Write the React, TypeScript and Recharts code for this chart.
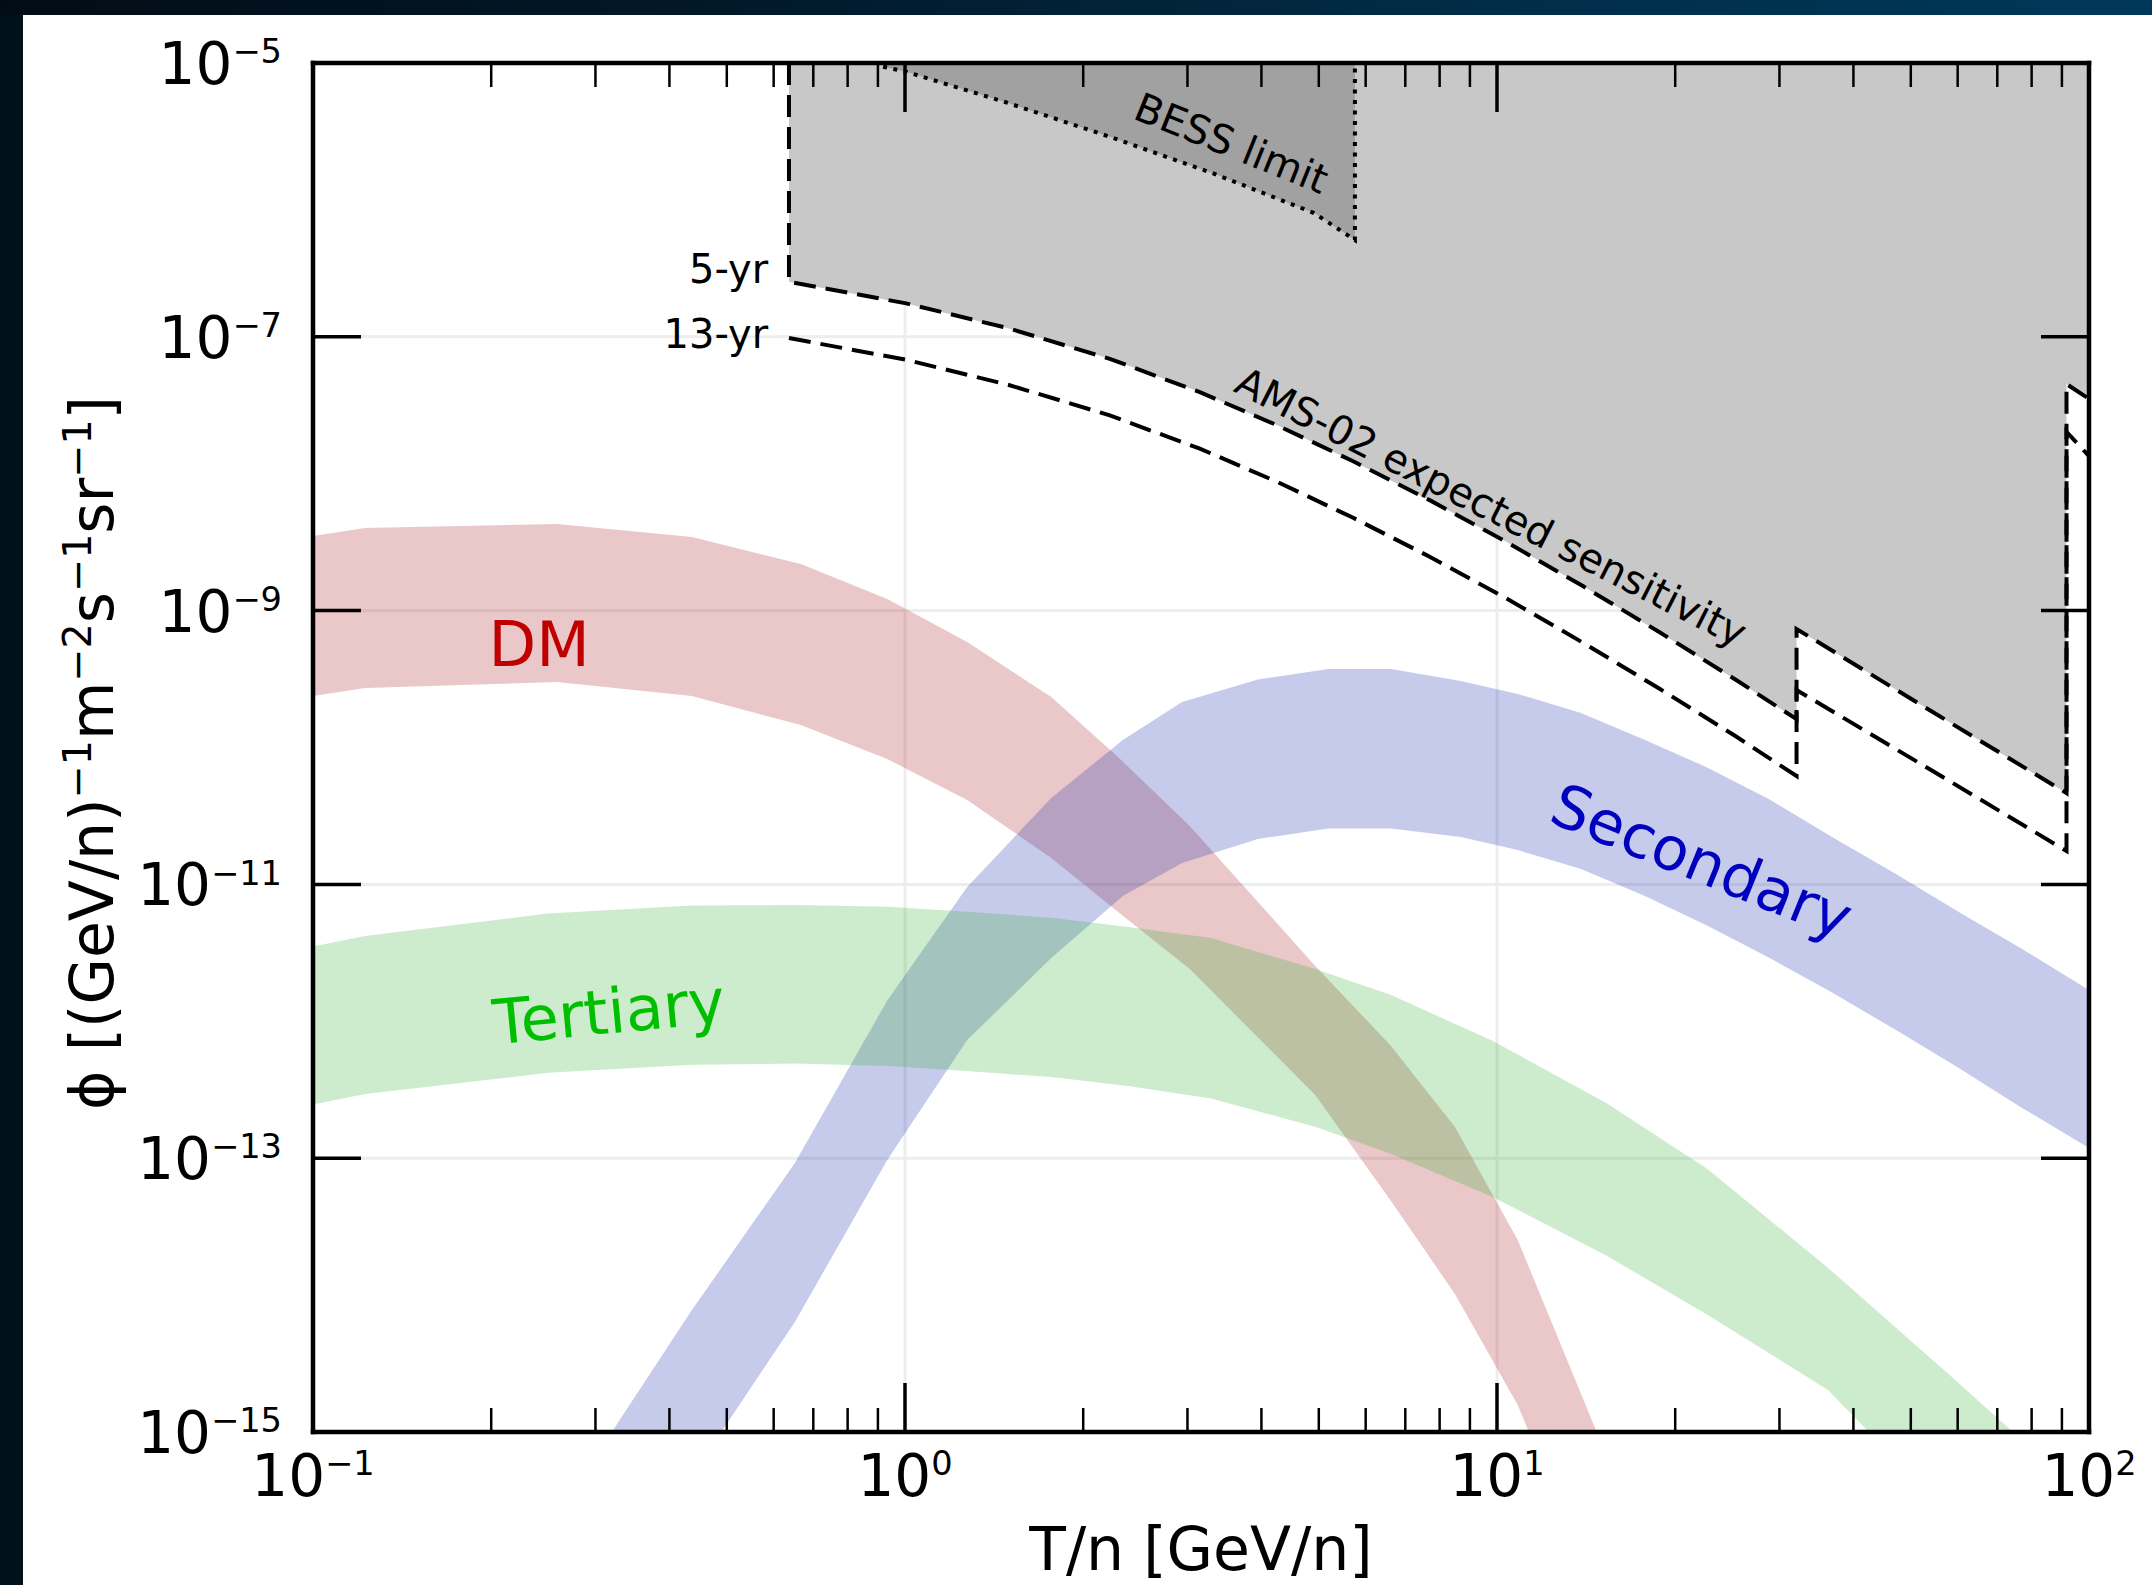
import React from 'react';
import { ComposedChart, Area, Line, XAxis, YAxis, CartesianGrid, ReferenceDot } from 'recharts';

const W = 2152;
const H = 1585;
const FONT = '"DejaVu Sans", sans-serif';

// all values are log10: x = log10(T/n in GeV/n), y = log10(flux)
const Y_MIN = -15;
const Y_MAX = -5;

const DM_X = [-1.0, -0.912, -0.588, -0.36, -0.176, -0.03, 0.105, 0.247, 0.358, 0.481, 0.693, 0.821, 0.929, 1.035, 1.169];
const DM_HI = [-8.455, -8.397, -8.367, -8.462, -8.66, -8.915, -9.229, -9.631, -10.062, -10.573, -11.596, -12.18, -12.772, -13.597, -15.007];
const DM_LO = [-9.624, -9.565, -9.522, -9.624, -9.836, -10.084, -10.383, -10.807, -11.194, -11.618, -12.538, -13.313, -13.992, -14.803, -16.2];

const TER_X = [-1.0, -0.912, -0.603, -0.36, -0.186, -0.03, 0.105, 0.247, 0.377, 0.517, 0.693, 0.821, 0.993, 1.186, 1.356, 1.559, 1.774, 2.0];
const TER_HI = [-11.454, -11.377, -11.213, -11.155, -11.15, -11.164, -11.199, -11.244, -11.311, -11.392, -11.618, -11.808, -12.144, -12.6, -13.08, -13.8, -14.62, -15.5];
const TER_LO = [-12.608, -12.531, -12.376, -12.318, -12.309, -12.326, -12.363, -12.407, -12.473, -12.564, -12.771, -12.969, -13.283, -13.714, -14.145, -14.693, -15.643, -16.81];

const SEC_X = [-0.603, -0.492, -0.36, -0.186, -0.03, 0.105, 0.247, 0.368, 0.468, 0.596, 0.715, 0.821, 0.939, 1.035, 1.142, 1.25, 1.353, 1.459, 1.566, 1.674, 1.78, 1.887, 2.0];
const SEC_HI = [-15.716, -14.978, -14.109, -13.035, -11.848, -11.019, -10.369, -9.945, -9.668, -9.503, -9.427, -9.427, -9.514, -9.609, -9.748, -9.945, -10.142, -10.376, -10.653, -10.924, -11.201, -11.472, -11.771];
const SEC_LO = [-16.899, -16.176, -15.321, -14.196, -13.013, -12.137, -11.538, -11.085, -10.844, -10.668, -10.592, -10.592, -10.654, -10.749, -10.888, -11.085, -11.297, -11.534, -11.79, -12.064, -12.341, -12.633, -12.925];

// AMS-02 expected sensitivity (x repeats where the curves jump)
const AMS_X = [-0.196, 0.002, 0.174, 0.346, 0.498, 0.628, 0.757, 0.887, 1.015, 1.145, 1.274, 1.404, 1.506, 1.506, 1.736, 1.962, 1.962, 2.0];
const AMS_5YR = [-6.598, -6.756, -6.937, -7.161, -7.404, -7.645, -7.909, -8.195, -8.496, -8.821, -9.156, -9.507, -9.793, -9.134, -9.741, -10.333, -7.345, -7.454];
const AMS_13YR = [-7.009, -7.168, -7.35, -7.574, -7.817, -8.058, -8.322, -8.608, -8.909, -9.234, -9.569, -9.92, -10.208, -9.58, -10.172, -10.756, -7.695, -7.871];

const BESS_X = [-0.037, 0.002, 0.174, 0.346, 0.519, 0.691, 0.76];
const BESS_Y = [-5.027, -5.064, -5.292, -5.539, -5.804, -6.096, -6.293];

const X_MAJOR = [-1, 0, 1, 2];
const X_TICKS = [
  ...X_MAJOR,
  ...[-1, 0, 1].flatMap((n) => [2, 3, 4, 5, 6, 7, 8, 9].map((k) => n + Math.log10(k))),
];
const Y_TICKS = [-15, -13, -11, -9, -7, -5];
const X_GRID = [0, 1];
const Y_GRID = [-13, -11, -9, -7];

const band = (xs: number[], lo: number[], hi: number[]) => xs.map((x, i) => ({ x, band: [lo[i], hi[i]] }));
const curve = (xs: number[], ys: number[]) => xs.map((x, i) => ({ x, y: ys[i] }));

const dmData = band(DM_X, DM_LO, DM_HI);
const terData = band(TER_X, TER_LO, TER_HI);
const secData = band(SEC_X, SEC_LO, SEC_HI);
const amsFill = band(AMS_X, AMS_5YR, AMS_X.map(() => Y_MAX));
const fiveYr = [{ x: AMS_X[0], y: Y_MAX }, ...curve(AMS_X, AMS_5YR)];
const thirteenYr = curve(AMS_X, AMS_13YR);
const bessFill = band(BESS_X, BESS_Y, BESS_X.map(() => Y_MAX));
const bessLine = [...curve(BESS_X, BESS_Y), { x: BESS_X[BESS_X.length - 1], y: Y_MAX }];

const NOTES = [
  { x: -0.618, y: -9.244, text: 'DM', color: '#c00000', size: 62, angle: 0 },
  { x: -0.5, y: -11.93, text: 'Tertiary', color: '#00bf00', size: 62, angle: -5.5 },
  { x: 1.346, y: -10.83, text: 'Secondary', color: '#0000bf', size: 60, angle: 22 },
  { x: 0.5515, y: -5.586, text: 'BESS limit', color: '#000', size: 40, angle: 22 },
  { x: 0.99, y: -8.243, text: 'AMS-02 expected sensitivity', color: '#000', size: 40, angle: 27 },
];
const YR_LABELS = [
  { x: -0.231, y: -6.607, text: '5-yr' },
  { x: -0.231, y: -7.082, text: '13-yr' },
];

const TICK_SIZE = 58;
const SUP = 0.58;
const isMajor = (v: number) => Math.abs(v - Math.round(v)) < 1e-9;
const expText = (v: number) => (v < 0 ? '\u2212' + Math.abs(v) : String(v));

function Pow({ x, y, exp, anchor }: { x: number; y: number; exp: number; anchor: string }) {
  return (
    <text x={x} y={y} textAnchor={anchor} fontFamily={FONT} fontSize={TICK_SIZE} fill="#000">
      10
      <tspan dy={-0.36 * TICK_SIZE} fontSize={TICK_SIZE * SUP}>
        {expText(exp)}
      </tspan>
    </text>
  );
}

function BottomTick(p: any) {
  const v = p.payload.value;
  const major = isMajor(v);
  return (
    <g>
      <line x1={p.x} y1={p.y} x2={p.x} y2={p.y - (major ? 49 : 24)} stroke="#000" strokeWidth={major ? 3.5 : 2.5} />
      {major && <Pow x={p.x} y={p.y + 64} exp={Math.round(v)} anchor="middle" />}
    </g>
  );
}

function TopTick(p: any) {
  const major = isMajor(p.payload.value);
  return <line x1={p.x} y1={p.y} x2={p.x} y2={p.y + (major ? 49 : 24)} stroke="#000" strokeWidth={major ? 3.5 : 2.5} />;
}

function LeftTick(p: any) {
  const v = p.payload.value;
  return (
    <g>
      <line x1={p.x} y1={p.y} x2={p.x + 48} y2={p.y} stroke="#000" strokeWidth={3.5} />
      <Pow x={p.x - 31} y={p.y + 21} exp={v} anchor="end" />
    </g>
  );
}

function RightTick(p: any) {
  return <line x1={p.x} y1={p.y} x2={p.x - 48} y2={p.y} stroke="#000" strokeWidth={3.5} />;
}

const axisLine = { stroke: '#000', strokeWidth: 4.5, strokeLinecap: 'square' };

const Y_LABEL_PARTS = [
  ['\u03d5 [(GeV/n)', '\u22121'],
  ['m', '\u22122'],
  ['s', '\u22121'],
  ['sr', '\u22121'],
  [']', ''],
];

function YLabel() {
  const size = 60;
  const raise = 0.36 * size;
  return (
    <text transform="translate(113,753) rotate(-90)" textAnchor="middle" fontFamily={FONT} fontSize={size} fill="#000">
      {Y_LABEL_PARTS.map(([base, sup], i) => (
        <React.Fragment key={i}>
          <tspan dy={i === 0 ? 0 : raise}>{base}</tspan>
          {sup && (
            <tspan dy={-raise} fontSize={size * 0.66}>
              {sup}
            </tspan>
          )}
        </React.Fragment>
      ))}
    </text>
  );
}

export default function App() {
  return (
    <div style={{ position: 'absolute', left: 0, top: 0, width: W, height: H, background: '#fff', overflow: 'hidden' }}>
      <div style={{ position: 'absolute', left: 0, top: 0, width: 23, height: H, background: '#01111c' }} />
      <div
        style={{
          position: 'absolute',
          left: 0,
          top: 0,
          width: W,
          height: 15,
          background: 'linear-gradient(to right, #020c15 0%, #01192a 35%, #012d48 70%, #00385a 100%)',
        }}
      />
      <div style={{ position: 'absolute', left: 0, top: 0 }}>
        <ComposedChart width={W} height={H} margin={{ top: 62, right: 62, bottom: 152, left: 312 }}>
          <CartesianGrid stroke="#ededed" strokeWidth={3} horizontalValues={Y_GRID} verticalValues={X_GRID} />
          <Area data={amsFill} dataKey="band" type="linear" stroke="none" fill="#c8c8c8" fillOpacity={1} isAnimationActive={false} />
          <Area data={bessFill} dataKey="band" type="linear" stroke="none" fill="#a1a1a1" fillOpacity={1} isAnimationActive={false} />
          <Area data={dmData} dataKey="band" type="linear" stroke="none" fill="rgb(171,31,35)" fillOpacity={0.25} isAnimationActive={false} />
          <Area data={secData} dataKey="band" type="linear" stroke="none" fill="rgb(31,47,175)" fillOpacity={0.25} isAnimationActive={false} />
          <Area data={terData} dataKey="band" type="linear" stroke="none" fill="rgb(55,175,55)" fillOpacity={0.25} isAnimationActive={false} />
          <Line data={thirteenYr} dataKey="y" type="linear" stroke="#000" strokeWidth={4} strokeDasharray="22 10" dot={false} activeDot={false} isAnimationActive={false} />
          <Line data={fiveYr} dataKey="y" type="linear" stroke="#000" strokeWidth={4} strokeDasharray="22 10" dot={false} activeDot={false} isAnimationActive={false} />
          <Line data={bessLine} dataKey="y" type="linear" stroke="#000" strokeWidth={4} strokeDasharray="4 6.5" dot={false} activeDot={false} isAnimationActive={false} />
          {NOTES.map((n) => (
            <ReferenceDot
              key={n.text}
              x={n.x}
              y={n.y}
              r={0}
              shape={(p: any) => (
                <text
                  x={p.cx}
                  y={p.cy}
                  transform={`rotate(${n.angle}, ${p.cx}, ${p.cy})`}
                  textAnchor="middle"
                  dominantBaseline="central"
                  fontFamily={FONT}
                  fontSize={n.size}
                  fill={n.color}
                >
                  {n.text}
                </text>
              )}
            />
          ))}
          {YR_LABELS.map((n) => (
            <ReferenceDot
              key={n.text}
              x={n.x}
              y={n.y}
              r={0}
              shape={(p: any) => (
                <text x={p.cx} y={p.cy} textAnchor="end" fontFamily={FONT} fontSize={40} fill="#000">
                  {n.text}
                </text>
              )}
            />
          ))}
          <XAxis
            dataKey="x"
            type="number"
            domain={[-1, 2]}
            allowDataOverflow
            ticks={X_TICKS}
            interval={0}
            height={1}
            tickSize={0}
            tickMargin={0}
            tickLine={false}
            axisLine={axisLine}
            tick={(p: any) => <BottomTick {...p} />}
          />
          <XAxis
            xAxisId="t"
            orientation="top"
            dataKey="x"
            type="number"
            domain={[-1, 2]}
            allowDataOverflow
            ticks={X_TICKS}
            interval={0}
            height={1}
            tickSize={0}
            tickMargin={0}
            tickLine={false}
            axisLine={axisLine}
            tick={(p: any) => <TopTick {...p} />}
          />
          <YAxis
            type="number"
            domain={[Y_MIN, Y_MAX]}
            allowDataOverflow
            ticks={Y_TICKS}
            interval={0}
            width={1}
            tickSize={0}
            tickMargin={0}
            tickLine={false}
            axisLine={axisLine}
            tick={(p: any) => <LeftTick {...p} />}
          />
          <YAxis
            yAxisId="r"
            orientation="right"
            type="number"
            domain={[Y_MIN, Y_MAX]}
            allowDataOverflow
            ticks={Y_TICKS}
            interval={0}
            width={1}
            tickSize={0}
            tickMargin={0}
            tickLine={false}
            axisLine={axisLine}
            tick={(p: any) => <RightTick {...p} />}
          />
        </ComposedChart>
      </div>
      <svg width={W} height={H} style={{ position: 'absolute', left: 0, top: 0, pointerEvents: 'none' }}>
        <text x={1201} y={1570} textAnchor="middle" fontFamily={FONT} fontSize={60} fill="#000">
          T/n [GeV/n]
        </text>
        <YLabel />
      </svg>
    </div>
  );
}
